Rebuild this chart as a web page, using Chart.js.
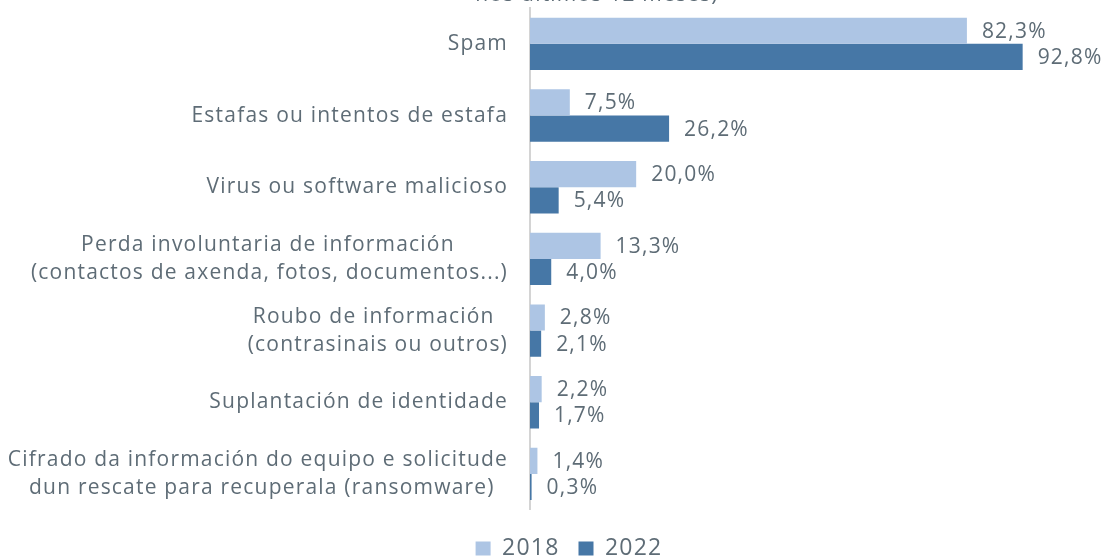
<!DOCTYPE html>
<html>
<head>
<meta charset="utf-8">
<script src="https://cdn.jsdelivr.net/npm/chart.js@4"></script>
<style>
  html, body { margin: 0; padding: 0; background: #fff; }
  #wrap { width: 1106px; height: 558px; position: relative; }
</style>
</head>
<body>
<div id="wrap"><canvas id="chart"></canvas></div>
<script>
// datos
const categorias = [
  "Spam",
  "Estafas ou intentos de estafa",
  "Virus ou software malicioso",
  ["Perda involuntaria de información        ", "(contactos de axenda, fotos, documentos...)"],
  ["Roubo de información  ", "(contrasinais ou outros)"],
  "Suplantación de identidade",
  ["Cifrado da información do equipo e solicitude", "dun rescate para recuperala (ransomware)  "]
];
const serie2018 = [82.3, 7.5, 20.0, 13.3, 2.8, 2.2, 1.4];
const serie2022 = [92.8, 26.2, 5.4, 4.0, 2.1, 1.7, 0.3];
const anos = ["2018", "2022"];
const subtitulo = "nos últimos 12 meses)";

const gris = "#5e6c76";
const fuente = "'Open Sans', sans-serif";
const espaciado = "1.2px";

// espaciado entre letras (el lienzo se reinicia al redimensionar)
const espaciadoPlugin = {
  id: "espaciado",
  beforeUpdate(chart) { chart.ctx.letterSpacing = espaciado; },
  beforeDraw(chart) { chart.ctx.letterSpacing = espaciado; }
};

// etiquetas de valor a la derecha de cada barra
const etiquetasPlugin = {
  id: "etiquetas",
  afterDatasetsDraw(chart) {
    const ctx = chart.ctx;
    ctx.save();
    ctx.font = "21px " + fuente;
    ctx.fillStyle = gris;
    ctx.textAlign = "left";
    ctx.textBaseline = "middle";
    chart.data.datasets.forEach((ds, i) => {
      chart.getDatasetMeta(i).data.forEach((bar, j) => {
        const txt = ds.data[j].toFixed(1).replace(".", ",") + "%";
        ctx.fillText(txt, bar.x + 15, bar.y + 1);
      });
    });
    ctx.restore();
  }
};

// texto cortado arriba
const tituloPlugin = {
  id: "tituloCortado",
  afterDraw(chart) {
    const ctx = chart.ctx;
    ctx.save();
    ctx.font = "21px " + fuente;
    ctx.fillStyle = gris;
    ctx.textAlign = "center";
    ctx.textBaseline = "alphabetic";
    ctx.fillText(subtitulo, 597, 1);
    ctx.restore();
  }
};

new Chart(document.getElementById("chart"), {
  type: "bar",
  data: {
    labels: categorias,
    datasets: [
      { label: anos[0], data: serie2018, backgroundColor: "#adc5e4" },
      { label: anos[1], data: serie2022, backgroundColor: "#4677a6" }
    ]
  },
  options: {
    indexAxis: "y",
    responsive: true,
    maintainAspectRatio: false,
    animation: false,
    layout: { padding: { top: 8, right: -32, bottom: -12, left: 0 } },
    datasets: { bar: { categoryPercentage: 0.73, barPercentage: 1 } },
    scales: {
      x: {
        min: 0, max: 108.5,
        display: false
      },
      y: {
        afterFit(scale) {
          scale.width = 530;
          scale.paddingTop = 0;
          scale.paddingBottom = 0;
        },
        grid: { display: false, drawTicks: false },
        border: { display: true, color: "#d4d4d4", width: 2 },
        ticks: {
          color: gris,
          padding: 22,
          font: { family: fuente, size: 21, lineHeight: 1.33 }
        }
      }
    },
    plugins: {
      tooltip: { enabled: false },
      legend: {
        position: "bottom",
        title: { display: true, text: " ", padding: { top: 7, bottom: 0 }, font: { size: 1 } },
        labels: {
          color: gris,
          boxWidth: 15,
          boxHeight: 14,
          padding: 19,
          font: { family: fuente, size: 23 }
        }
      }
    }
  },
  plugins: [espaciadoPlugin, etiquetasPlugin, tituloPlugin]
});
</script>
</body>
</html>
